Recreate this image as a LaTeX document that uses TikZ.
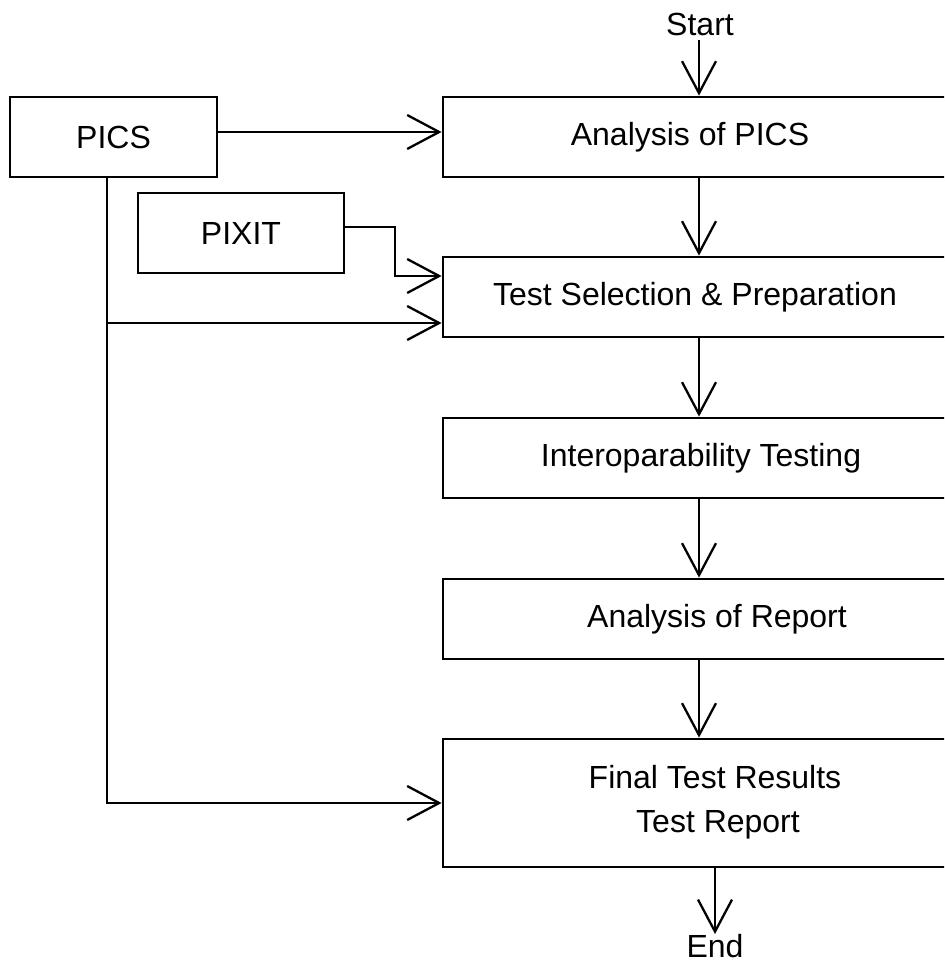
\documentclass[tikz,border=0pt]{standalone}
\usepackage{fontspec}
\setmainfont{Liberation Sans}
\usetikzlibrary{arrows.meta}
\begin{document}
\begin{tikzpicture}[x=1pt,y=-1pt,
  box/.style={draw, line width=2.8pt, rectangle, inner sep=0pt},
  lbl/.style={font=\fontsize{32}{48}\selectfont, inner sep=0pt, align=center},
  arr/.style={line width=2.3pt, -{Straight Barb[length=32pt,width=34pt]}},
  wire/.style={line width=2.3pt}]
  \useasboundingbox (0,0) rectangle (944,965);
  \clip (0,0) rectangle (944,965);

  % input documents on the left
  \node[box, minimum width=207pt, minimum height=80pt] (pics)  at (113.5,137) {};
  \node[lbl] (picst) at (113.5,137) {PICS};
  \node[box, minimum width=206pt, minimum height=80pt] (pixit) at (241,233) {};
  \node[lbl] (pixitt) at (241,233) {PIXIT};

  % main process column (right edges run past the page)
  \node[box, minimum width=507pt, minimum height=80pt]  (ana) at (696.5,137) {};
  \node[box, minimum width=507pt, minimum height=80pt]  (sel) at (696.5,297) {};
  \node[box, minimum width=507pt, minimum height=80pt]  (iop) at (696.5,458) {};
  \node[box, minimum width=507pt, minimum height=80pt]  (rep) at (696.5,619) {};
  \node[box, minimum width=507pt, minimum height=128pt] (fin) at (696.5,803) {};

  \node[lbl] (anat) at (690,137) {Analysis of PICS};
  \node[lbl] (selt) at (695,297) {Test Selection \& Preparation};
  \node[lbl] (iopt) at (701,458) {Interoparability Testing};
  \node[lbl] (rept) at (717,619) {Analysis of Report};
  \node[lbl] (fint1) at (715,777) {Final Test Results};
  \node[lbl] (fint2) at (718,825) {Test Report};

  \node[lbl] (start) at (700,24) {Start};
  \node[lbl] (endn)  at (715,946) {End};

  % vertical flow
  \coordinate (col) at (699,0);
  \draw[arr] (col |- start.south) ++(0,4) -- (ana.north -| col);
  \draw[arr] (ana.south -| col) -- (sel.north -| col);
  \draw[arr] (sel.south -| col) -- (iop.north -| col);
  \draw[arr] (iop.south -| col) -- (rep.north -| col);
  \draw[arr] (rep.south -| col) -- (fin.north -| col);
  \draw[arr] (fin.south -| endn) -- (endn.north);

  % PICS feeds
  \draw[arr] ([yshift=5pt]pics.east) -- ([yshift=5pt]ana.west);
  \coordinate (trunk) at ([xshift=-6.5pt]pics.south);
  \draw[arr] (trunk) |- (fin.west);
  \coordinate (selin) at ([yshift=-26pt]sel.west);
  \draw[arr] (selin -| trunk) -- (selin);

  % PIXIT feed
  \coordinate (pxin) at ([yshift=21pt]sel.west);
  \coordinate (pxbend) at (395,0);
  \draw[arr] ([yshift=6pt]pixit.east) -| (pxin -| pxbend) -- (pxin);
\end{tikzpicture}
\end{document}
